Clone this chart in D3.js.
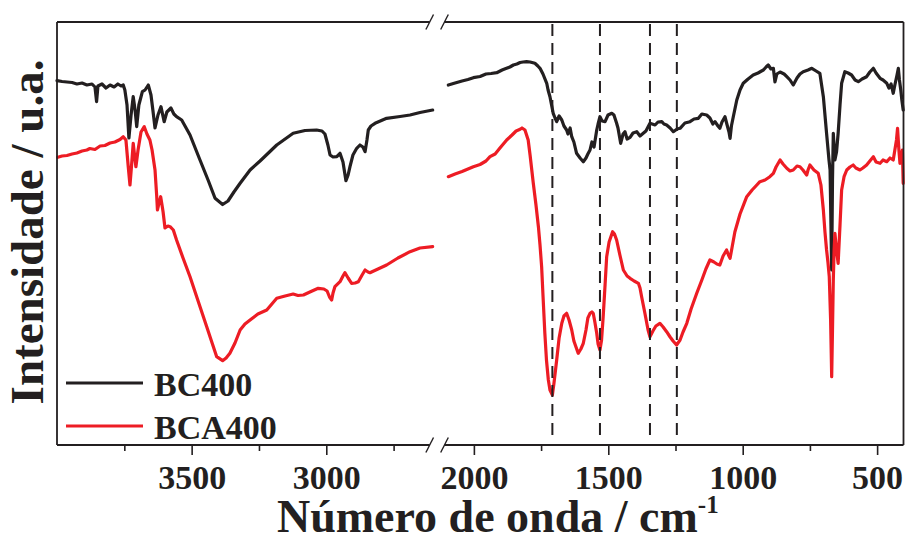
<!DOCTYPE html>
<html><head><meta charset="utf-8">
<script src="https://cdn.jsdelivr.net/npm/d3@7/dist/d3.min.js"></script>
<style>body{margin:0;background:#fff}svg{display:block}</style>
</head><body>
<svg id="chart" width="905" height="539"></svg>
<script>
// ---- data (wavenumber in cm-1, intensity in a.u.) ----
const seriesNames = ["BC400", "BCA400"];
const bc400Wn = [4000,3981,3963,3944,3926,3907,3889,3870,3859,3853,3848,3833,3818,3803,3788,3774,3762,3754,3748,3740,3733,3725,3717,3710,3704,3696,3683,3673,3661,3651,3644,3636,3625,3614,3602,3592,3577,3566,3556,3537,3506,3469,3439,3413,3385,3365,3343,3320,3283,3246,3184,3123,3079,3036,3016,3005,2994,2986,2975,2961,2949,2938,2927,2919,2912,2901,2887,2875,2864,2856,2849,2844,2834,2819,2776,2726,2689,2652,2605,
 2095,2070,2044,2022,2002,1977,1955,1936,1915,1895,1881,1866,1853,1840,1828,1817,1804,1791,1773,1762,1754,1743,1729,1724,1717,1711,1705,1698,1692,1683,1673,1665,1655,1650,1642,1636,1628,1618,1605,1593,1583,1576,1568,1561,1553,1543,1538,1531,1523,1512,1501,1487,1479,1469,1464,1454,1445,1438,1430,1419,1408,1394,1382,1370,1360,1345,1326,1315,1301,1293,1283,1270,1258,1244,1233,1215,1196,1181,1165,1152,1134,1122,1111,1103,1092,1085,1077,1066,1059,1051,1047,1042,1035,1022,1010,998,980,961,943,923,913,905,895,886,880,873,861,846,836,824,812,798,787,775,757,743,727,713,700,688,679,675,669,666,663,657,651,645,638,632,620,608,595,582,570,556,539,527,514,504,489,478,464,456,448,440,434,426,421,417,412,408,403];
const bc400Int = [364.3,363.5,363,362.5,361,362,360,361,358,343.3,359,361,357,360,358,361,359,360,355,340,307,330,348.3,335,318.3,340,353.3,355,360,350,335,317,330,338.3,323.3,333,337,331,328.3,325,310,285,265,246.7,240.5,244,253,261.7,275,284,300,311.7,314.5,315,314,311,300,290,288,288.3,291.7,283,264.3,270,278.3,290,296.7,300,298,293.3,305,315,319,321.7,326.7,328.5,330,332.5,335,
 360,362,364,365.5,367.3,368.5,371,371.5,372.3,375,376.5,378,380,381,382.5,383,383.3,383,381.7,379,376.7,371,361.7,355,348.3,340,331.7,327,323.3,329,325,319,315,311,317,308.3,303,291.7,287,283.3,287,291,295,303,298,315,321,328.3,324,323.3,330,331.7,330,321.7,317,301.7,311,313.3,306,307.7,312,313.3,309,311.7,314,321.7,320,323,323.3,321,320,317,313.3,316,316.7,322,323.3,326,326.7,331,330,327,321,323.3,319,316.7,323,328.3,321,313,306.7,319,328.3,345,355,361.7,366,370,372,375,378,380,376,376.7,363,371,373,371,368.3,365,360,367,371,373.3,375,376.7,374,371.7,348.3,311.7,285,275,175,265,311.7,285,293,311.7,340,361.7,373.3,372,370,365,363.3,366,368.3,373,376.7,372,366.7,365,361.7,357,361,351.7,360,370,376.7,365,355,345,335];
const bca400Wn = [3997,3981,3963,3944,3926,3907,3889,3878,3859,3840,3822,3803,3785,3766,3754,3744,3736,3729,3723,3717,3710,3707,3699,3688,3676,3666,3655,3647,3636,3630,3627,3621,3615,3609,3606,3599,3588,3580,3568,3556,3532,3506,3476,3444,3424,3407,3385,3372,3358,3339,3320,3302,3283,3254,3221,3184,3153,3123,3105,3085,3061,3030,3009,2997,2988,2980,2975,2968,2949,2938,2931,2919,2906,2893,2881,2867,2856,2845,2838,2808,2776,2734,2689,2652,2605,
 2095,2070,2044,2022,2002,1977,1955,1940,1921,1903,1878,1858,1843,1828,1821,1810,1798,1791,1779,1769,1760,1754,1748,1743,1736,1730,1723,1717,1708,1702,1692,1683,1673,1665,1655,1646,1636,1628,1612,1602,1593,1583,1576,1568,1561,1556,1550,1543,1538,1531,1525,1519,1512,1506,1497,1484,1477,1469,1456,1444,1430,1419,1404,1388,1382,1376,1364,1352,1345,1334,1323,1308,1296,1283,1270,1259,1246,1233,1222,1208,1192,1171,1152,1137,1122,1107,1096,1085,1073,1060,1053,1047,1040,1029,1010,985,965,951,936,917,899,886,876,861,850,836,824,812,798,787,776,762,757,750,735,719,709,700,694,688,683,678,673,669,666,663,660,657,651,645,638,632,623,613,601,589,579,564,553,539,527,514,504,489,478,464,452,440,434,428,424,419,415,411,406,403];
const bca400Int = [287.7,289,289.5,291,292,294,295,296.5,295.5,299,299.5,302,303,305.5,308.3,305,280,260,280,301.7,285,278.3,295,313,318.3,311,305,295,275,250,235,242,248.3,238.3,233,217,219,218.3,215,205,187,168.3,144,118.3,102,88.3,84.3,87,91.7,102,115,121,125,131,135,146.7,149,151,149.5,150,153,156.7,156,154,148,145,152,158.3,163.3,169,172.3,167,161.7,162,163.3,170,175,173,172.3,176,180,187,193.3,197,198.3,
 268.3,271,273.5,276,278.3,280.5,284,288.3,291,297,305,310,314,315.7,317,315,305,290,261.7,240,218.3,200,178.3,150,111.7,85,65,55,50,62,85,107,121.7,129,131.7,125,115,104,91.7,96,101.7,115,127,131.7,133,131.7,123,111.7,101,95,105,128.3,160,188.3,203,213.3,211,205,189,175,169,166.7,164,161.7,157,148.3,132,115,108.3,114,119,121.7,118,113.3,108,104,100,105,113,121.7,136,151.7,165,176,185,183,181,180,189,195,190,186.7,197,213.3,231,248.3,255,259,263.3,265,268.3,271.7,278,285,281,276.7,274,275,279,278.3,275,270,275,280,275,271.7,260,235,213,195,183,168.3,125,68.3,115,165,195,211.7,195,181.7,220,255,268.3,275,278,280,277,275,277,280,284,288.3,283,281.7,285,283.3,287,285,295,305,316.7,295,281.7,287,295,261.7];
const leftDomain = [4000, 2600];
const rightDomain = [2100, 400];
const majorTicksLeft = [3500, 3000];
const minorTicksLeft = [3750, 3250, 2750];
const majorTicksRight = [2000, 1500, 1000, 500];
const minorTicksRight = [1750, 1250, 750];
const markerWn = [1708, 1531, 1345, 1245];
const intensityDomain = [0, 423];

// ---- layout ----
const ink = "#231f20";
const colors = [ink, "#ed1c24"];
const font = "'Liberation Serif','Times New Roman',serif";
const plotTop = 22, plotBottom = 445, plotLeft = 57, plotRight = 903.5;
const svg = d3.select("#chart");

const xL = d3.scaleLinear().domain(leftDomain).range([57, 434]);
const xR = d3.scaleLinear().domain(rightDomain).range([447, 904]);
const y = d3.scaleLinear().domain(intensityDomain).range([plotBottom, plotTop]);

// curves
const series = [
  {name: seriesNames[0], wn: bc400Wn, v: bc400Int, color: colors[0]},
  {name: seriesNames[1], wn: bca400Wn, v: bca400Int, color: colors[1]}
];
series.forEach(s => {
  const pts = s.wn.map((w, i) => [w, s.v[i]]);
  const leftPts = pts.filter(p => p[0] >= leftDomain[1]);
  const rightPts = pts.filter(p => p[0] <= rightDomain[0]);
  const lineL = d3.line().x(d => xL(d[0])).y(d => y(d[1]));
  const lineR = d3.line().x(d => xR(d[0])).y(d => y(d[1]));
  [[leftPts, lineL], [rightPts, lineR]].forEach(([p, ln]) => {
    svg.append("path").attr("d", ln(p)).attr("fill", "none")
      .attr("stroke", s.color).attr("stroke-width", 3.2)
      .attr("stroke-linejoin", "round").attr("stroke-linecap", "round");
  });
});

// dashed marker lines
svg.selectAll("line.marker").data(markerWn).enter().append("line")
  .attr("x1", d => xR(d)).attr("x2", d => xR(d))
  .attr("y1", plotTop + 2).attr("y2", plotBottom - 3)
  .attr("stroke", ink).attr("stroke-width", 2).attr("stroke-dasharray", "12,7");

// axes (ticks + labels)
function addAxis(scale, major, minor) {
  const gMaj = svg.append("g").attr("transform", `translate(0,${plotBottom})`)
    .call(d3.axisBottom(scale).tickValues(major).tickSize(10).tickPadding(10).tickFormat(d3.format("d")));
  const gMin = svg.append("g").attr("transform", `translate(0,${plotBottom})`)
    .call(d3.axisBottom(scale).tickValues(minor).tickSize(6).tickFormat(""));
  [gMaj, gMin].forEach(g => {
    g.select(".domain").remove();
    g.selectAll("line").attr("stroke", ink).attr("stroke-width", 1.6);
    g.selectAll("text").attr("fill", ink).style("font-family", font)
      .style("font-weight", "bold").style("font-size", "34px");
  });
}
addAxis(xL, majorTicksLeft, minorTicksLeft);
addAxis(xR, majorTicksRight, minorTicksRight);

// frame with break
const frame = svg.append("g").attr("stroke", ink).attr("stroke-width", 1.8).attr("fill", "none");
const b1 = 429.7, b2 = 444.5;
[plotTop, plotBottom].forEach(yy => {
  frame.append("line").attr("x1", plotLeft).attr("x2", b1).attr("y1", yy).attr("y2", yy);
  frame.append("line").attr("x1", b2).attr("x2", plotRight).attr("y1", yy).attr("y2", yy);
  [b1, b2].forEach(bx => frame.append("line")
    .attr("x1", bx - 3.8).attr("y1", yy + 7.5).attr("x2", bx + 3.8).attr("y2", yy - 7.5)
    .attr("stroke-width", 1.4));
});
frame.append("line").attr("x1", plotLeft).attr("x2", plotLeft).attr("y1", plotTop).attr("y2", plotBottom);
frame.append("line").attr("x1", plotRight).attr("x2", plotRight).attr("y1", plotTop).attr("y2", plotBottom);

// legend
const legend = svg.append("g");
series.forEach((s, i) => {
  const ly = 383 + i * 43;
  legend.append("line").attr("x1", 66).attr("x2", 143).attr("y1", ly).attr("y2", ly)
    .attr("stroke", s.color).attr("stroke-width", 3);
  legend.append("text").attr("x", 154).attr("y", ly + 13).text(s.name)
    .attr("fill", ink).style("font-family", font).style("font-weight", "bold").style("font-size", "34px");
});

// axis titles
const xt = svg.append("text").attr("x", 277).attr("y", 532).attr("fill", ink)
  .style("font-family", font).style("font-weight", "bold").style("font-size", "46px");
xt.append("tspan").text("Número de onda / cm");
xt.append("tspan").attr("dy", -19).style("font-size", "25px").text("-1");

svg.append("text").attr("transform", "translate(43,232) rotate(-90)")
  .attr("text-anchor", "middle").attr("fill", ink)
  .style("font-family", font).style("font-weight", "bold").style("font-size", "47px")
  .text("Intensidade / u.a.");
</script>
</body></html>
